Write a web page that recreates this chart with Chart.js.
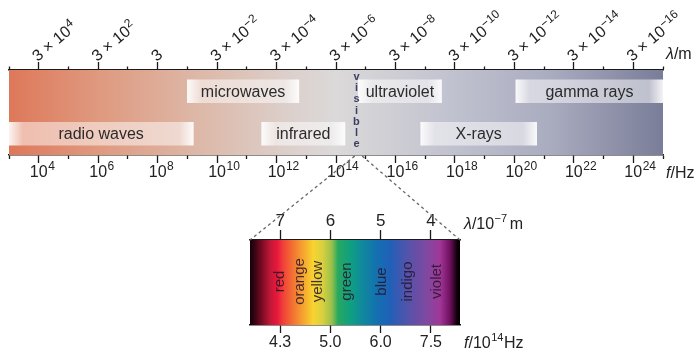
<!DOCTYPE html>
<html>
<head>
<meta charset="utf-8">
<script src="https://cdn.jsdelivr.net/npm/chart.js@4.4.0/dist/chart.umd.min.js"></script>
<style>
  html, body { margin: 0; padding: 0; background: #fff; }
  .layer { position: absolute; left: 0; top: 0; width: 697px; height: 353px; }
</style>
</head>
<body>
<div class="layer"><canvas id="spectrumChart"></canvas></div>
<div class="layer" style="pointer-events:none"><canvas id="visibleChart"></canvas></div>
<script>
// EM spectrum, positions in log10(f / Hz)
const logFreqMin = 3;
const logFreqMax = 25;
const bandNames = ['radio waves', 'microwaves', 'infrared', 'ultraviolet', 'X-rays', 'gamma rays'];
const bandRows  = ['lower', 'upper', 'lower', 'upper', 'lower', 'upper'];
const bandStart = [3.0, 9.0, 11.5, 14.75, 16.85, 20.05];
const bandEnd   = [9.2, 12.75, 14.3, 17.55, 20.75, 25.0];
const visibleBand = [14.63, 14.88];

// visible part, positions in wavelength (10^-7 m)
const visRange = [7.6, 3.42];
const visWavelengthTicks = [7, 6, 5, 4];
const visFreqTickLabels = ['4.3', '5.0', '6.0', '7.5'];
const colourNames = ['red', 'orange', 'yellow', 'green', 'blue', 'indigo', 'violet'];
const colourCentres = [7.0, 6.6, 6.25, 5.67, 4.97, 4.45, 3.88];

// rainbow colour stops (wavelength, colour)
const rainbowStops = [
  [7.60, '#1a0008'], [7.53, '#2a0410'], [7.40, '#6a0820'], [7.20, '#c01838'],
  [7.06, '#e8183c'], [6.94, '#f0403a'], [6.74, '#f27432'], [6.54, '#f6a430'],
  [6.34, '#f8d430'], [6.15, '#d8cf40'], [5.97, '#98c04a'], [5.85, '#28a860'],
  [5.61, '#10a080'], [5.35, '#10889e'], [5.07, '#1470b0'], [4.81, '#2060b8'],
  [4.61, '#4058b0'], [4.36, '#6050a8'], [4.08, '#8048a0'], [3.82, '#a03898'],
  [3.62, '#701060'], [3.48, '#100008'], [3.42, '#000000']
];

const FONT = '"Liberation Sans", Arial, sans-serif';
Chart.defaults.font.family = FONT;
Chart.defaults.color = '#222';

const everyDecade = scale => {
  const t = [];
  for (let v = logFreqMin; v <= logFreqMax; v++) t.push({ value: v });
  scale.ticks = t;
};

// text with a raised exponent; x,y = baseline start, returns width of base
function powerText(ctx, base, exp, x, y, size, supSize, rise) {
  ctx.font = size + 'px ' + FONT;
  ctx.fillText(base, x, y);
  const w = ctx.measureText(base).width;
  if (exp !== '') {
    ctx.font = supSize + 'px ' + FONT;
    ctx.fillText(exp, x + w + 0.5, y - rise);
  }
  return w;
}

// white band boxes with soft ends
function bandFill(ctx) {
  const chart = ctx.chart, raw = ctx.raw;
  if (!chart.chartArea || !raw) return 'rgba(255,255,255,0.5)';
  const xs = chart.scales.x;
  const a = xs.getPixelForValue(raw.x[0]), b = xs.getPixelForValue(raw.x[1]);
  const g = chart.ctx.createLinearGradient(a, 0, b, 0);
  const e = Math.min(0.2, 14 / (b - a));
  g.addColorStop(0, 'rgba(255,255,255,0.92)');
  g.addColorStop(e, 'rgba(255,255,255,0.5)');
  g.addColorStop(1 - e, 'rgba(255,255,255,0.5)');
  g.addColorStop(1, 'rgba(255,255,255,0.92)');
  return g;
}

const spectrumBackground = {
  id: 'spectrumBackground',
  beforeDatasetsDraw(chart) {
    const { ctx, chartArea: ca } = chart;
    const g = ctx.createLinearGradient(ca.left, 0, ca.right, 0);
    g.addColorStop(0, 'rgb(222,120,90)');
    g.addColorStop(0.14, 'rgb(223,154,128)');
    g.addColorStop(0.29, 'rgb(221,184,168)');
    g.addColorStop(0.43, 'rgb(220,208,204)');
    g.addColorStop(0.5, 'rgb(219,217,217)');
    g.addColorStop(0.67, 'rgb(194,195,208)');
    g.addColorStop(0.83, 'rgb(169,171,191)');
    g.addColorStop(1, 'rgb(122,125,152)');
    ctx.save();
    ctx.fillStyle = g;
    ctx.fillRect(ca.left, ca.top, ca.right - ca.left, ca.bottom - ca.top);
    ctx.restore();
  }
};

const spectrumText = {
  id: 'spectrumText',
  afterDatasetsDraw(chart) {
    const { ctx, chartArea: ca } = chart;
    const meta = chart.getDatasetMeta(0);
    ctx.save();
    ctx.fillStyle = '#2b2b2b';
    ctx.textAlign = 'center';
    ctx.textBaseline = 'middle';
    ctx.font = '16px ' + FONT;
    meta.data.forEach((bar, i) => {
      ctx.fillText(bandNames[i], (bar.x + bar.base) / 2, bar.y + 1);
    });
    // stacked "visible"
    const vx = chart.scales.x.getPixelForValue((visibleBand[0] + visibleBand[1]) / 2) - 2;
    ctx.font = 'bold 11px ' + FONT;
    ctx.fillStyle = '#3a4060';
    'visible'.split('').forEach((ch, i) => ctx.fillText(ch, vx, ca.top + 7 + i * 11.2));
    ctx.restore();
  },
  afterDraw(chart) {
    const { ctx, chartArea: ca } = chart;
    const xs = chart.scales.x, ls = chart.scales.x2;
    ctx.save();
    ctx.fillStyle = '#222';
    ctx.textAlign = 'left';
    ctx.textBaseline = 'alphabetic';
    // frequency labels 10^n
    xs.ticks.forEach(t => {
      if (t.value % 2 !== 0) return;
      const px = xs.getPixelForValue(t.value);
      ctx.font = '16px ' + FONT;
      const w = ctx.measureText('10').width;
      powerText(ctx, '10', String(t.value), px - w / 2, ca.bottom + 22, 16, 12, 7);
    });
    // wavelength labels 3 x 10^(8-n), rotated
    ls.ticks.forEach(t => {
      if (t.value % 2 !== 0) return;
      const px = ls.getPixelForValue(t.value);
      const e = 8 - t.value;
      ctx.save();
      ctx.translate(px - 1, ca.top - 8);
      ctx.rotate(-40 * Math.PI / 180);
      if (e === 0) powerText(ctx, '3', '', 0, 0, 16, 12, 6);
      else powerText(ctx, '3 × 10', e < 0 ? '−' + (-e) : String(e), 0, 0, 16, 12, 6);
      ctx.restore();
    });
    // axis units
    const units = (parts, x, y) => {
      parts.forEach(([txt, style]) => {
        ctx.font = style + FONT;
        ctx.fillText(txt, x, y);
        x += ctx.measureText(txt).width;
      });
    };
    units([['λ', 'italic 16px '], ['/m', '16px ']], ca.right + 3, ca.top - 11);
    units([['f', 'italic 16px '], ['/Hz', '16px ']], ca.right + 3, ca.bottom + 23);
    ctx.restore();
  }
};

const spectrum = new Chart(document.getElementById('spectrumChart'), {
  type: 'bar',
  data: {
    datasets: [{
      data: bandNames.map((n, i) => ({ x: [bandStart[i], bandEnd[i]], y: bandRows[i] })),
      backgroundColor: bandFill,
      borderWidth: 0,
      barThickness: 23
    }]
  },
  options: {
    indexAxis: 'y',
    responsive: true,
    maintainAspectRatio: false,
    animation: false,
    devicePixelRatio: 1,
    layout: { padding: { left: 9, right: 34, top: 62, bottom: 190 } },
    plugins: { legend: { display: false }, tooltip: { enabled: false } },
    scales: {
      y: { type: 'category', labels: ['upper', 'lower'], display: false },
      x: {
        type: 'linear', position: 'bottom', min: logFreqMin, max: logFreqMax,
        afterBuildTicks: everyDecade,
        grid: {
          drawOnChartArea: false, drawTicks: true, tickLength: 8,
          tickColor: '#1a1a1a', tickWidth: 1.3,
          tickBorderDash: c => (c.tick && c.tick.value % 2 === 0) ? [] : [3.5, 10]
        },
        border: { display: true, color: '#1a1a1a', width: 1.5 },
        ticks: { display: false }
      },
      x2: {
        type: 'linear', position: 'top', min: logFreqMin, max: logFreqMax,
        afterBuildTicks: everyDecade,
        grid: {
          drawOnChartArea: false, drawTicks: true, tickLength: 8,
          tickColor: '#1a1a1a', tickWidth: 1.3,
          tickBorderDash: c => (c.tick && c.tick.value % 2 === 0) ? [] : [3.5, 4.5],
          tickBorderDashOffset: c => (c.tick && c.tick.value % 2 === 0) ? 0 : 3.5
        },
        border: { display: true, color: '#1a1a1a', width: 1.5 },
        ticks: { display: false }
      }
    }
  },
  plugins: [spectrumBackground, spectrumText]
});

// ---- visible spectrum inset ----
function rainbowFill(ctx) {
  const chart = ctx.chart;
  if (!chart.chartArea) return '#888';
  const xs = chart.scales.x;
  const a = xs.getPixelForValue(visRange[0]), b = xs.getPixelForValue(visRange[1]);
  const g = chart.ctx.createLinearGradient(a, 0, b, 0);
  rainbowStops.forEach(([lam, col]) => {
    const t = (xs.getPixelForValue(lam) - a) / (b - a);
    g.addColorStop(Math.min(1, Math.max(0, t)), col);
  });
  return g;
}

const visibleText = {
  id: 'visibleText',
  afterDatasetsDraw(chart) {
    const { ctx, chartArea: ca } = chart;
    const xs = chart.scales.x;
    ctx.save();
    ctx.font = '15px ' + FONT;
    ctx.fillStyle = 'rgba(40,20,40,0.85)';
    ctx.textAlign = 'center';
    ctx.textBaseline = 'middle';
    colourNames.forEach((name, i) => {
      ctx.save();
      ctx.translate(xs.getPixelForValue(colourCentres[i]), (ca.top + ca.bottom) / 2 - 1);
      ctx.rotate(-Math.PI / 2);
      ctx.fillText(name, 0, 0);
      ctx.restore();
    });
    ctx.restore();
  },
  afterDraw(chart) {
    const { ctx, chartArea: ca } = chart;
    // dashed zoom lines from the visible band above
    const sx = spectrum.scales.x;
    const y0 = spectrum.chartArea.bottom + 1;
    ctx.save();
    ctx.strokeStyle = '#666';
    ctx.lineWidth = 1.3;
    ctx.setLineDash([3, 3]);
    ctx.beginPath();
    ctx.moveTo(sx.getPixelForValue(visibleBand[0]), y0);
    ctx.lineTo(ca.left, ca.top);
    ctx.moveTo(sx.getPixelForValue(visibleBand[1]), y0);
    ctx.lineTo(ca.right, ca.top);
    ctx.stroke();
    ctx.setLineDash([]);
    // unit labels
    ctx.fillStyle = '#222';
    ctx.textAlign = 'left';
    ctx.textBaseline = 'alphabetic';
    let x = ca.right + 4, y = ca.top - 11;
    ctx.font = 'italic 16px ' + FONT;
    ctx.fillText('λ', x, y);
    x += ctx.measureText('λ').width;
    x += powerText(ctx, '/10', '', x, y, 16, 11, 7);
    ctx.font = '11px ' + FONT;
    ctx.fillText('−7', x + 0.5, y - 7);
    x += ctx.measureText('−7').width + 3;
    ctx.font = '16px ' + FONT;
    ctx.fillText('m', x, y);
    x = ca.right + 4; y = ca.bottom + 23;
    ctx.font = 'italic 16px ' + FONT;
    ctx.fillText('f', x, y);
    x += ctx.measureText('f').width;
    x += powerText(ctx, '/10', '', x, y, 16, 11, 7);
    ctx.font = '11px ' + FONT;
    ctx.fillText('14', x + 0.5, y - 7);
    x += ctx.measureText('14').width + 1;
    ctx.font = '16px ' + FONT;
    ctx.fillText('Hz', x, y);
    ctx.restore();
  }
};

new Chart(document.getElementById('visibleChart'), {
  type: 'bar',
  data: {
    datasets: [{
      data: [{ x: visRange, y: 'visible' }],
      backgroundColor: rainbowFill,
      borderWidth: 0,
      barPercentage: 1,
      categoryPercentage: 1
    }]
  },
  options: {
    indexAxis: 'y',
    responsive: true,
    maintainAspectRatio: false,
    animation: false,
    devicePixelRatio: 1,
    layout: { padding: { left: 250, right: 237, top: 213, bottom: 0 } },
    plugins: { legend: { display: false }, tooltip: { enabled: false } },
    scales: {
      y: { type: 'category', labels: ['visible'], display: false },
      x: {
        type: 'linear', position: 'bottom', reverse: true, min: visRange[1], max: visRange[0],
        afterBuildTicks: s => { s.ticks = visWavelengthTicks.map(v => ({ value: v })); },
        grid: { drawOnChartArea: false, tickLength: 8, tickColor: '#1a1a1a', tickWidth: 1.3 },
        border: { display: true, color: '#1a1a1a', width: 1.5 },
        ticks: { autoSkip: false, maxRotation: 0, padding: 2, font: { size: 16, lineHeight: 1 },
                 callback: (v, i) => visFreqTickLabels[i] }
      },
      x2: {
        type: 'linear', position: 'top', reverse: true, min: visRange[1], max: visRange[0],
        afterBuildTicks: s => { s.ticks = visWavelengthTicks.map(v => ({ value: v })); },
        grid: { drawOnChartArea: false, tickLength: 10, tickColor: '#1a1a1a', tickWidth: 1.3 },
        border: { display: true, color: '#1a1a1a', width: 1.5 },
        ticks: { autoSkip: false, maxRotation: 0, padding: 0, font: { size: 17, lineHeight: 1 },
                 callback: v => String(v) }
      }
    }
  },
  plugins: [visibleText]
});
</script>
</body>
</html>
